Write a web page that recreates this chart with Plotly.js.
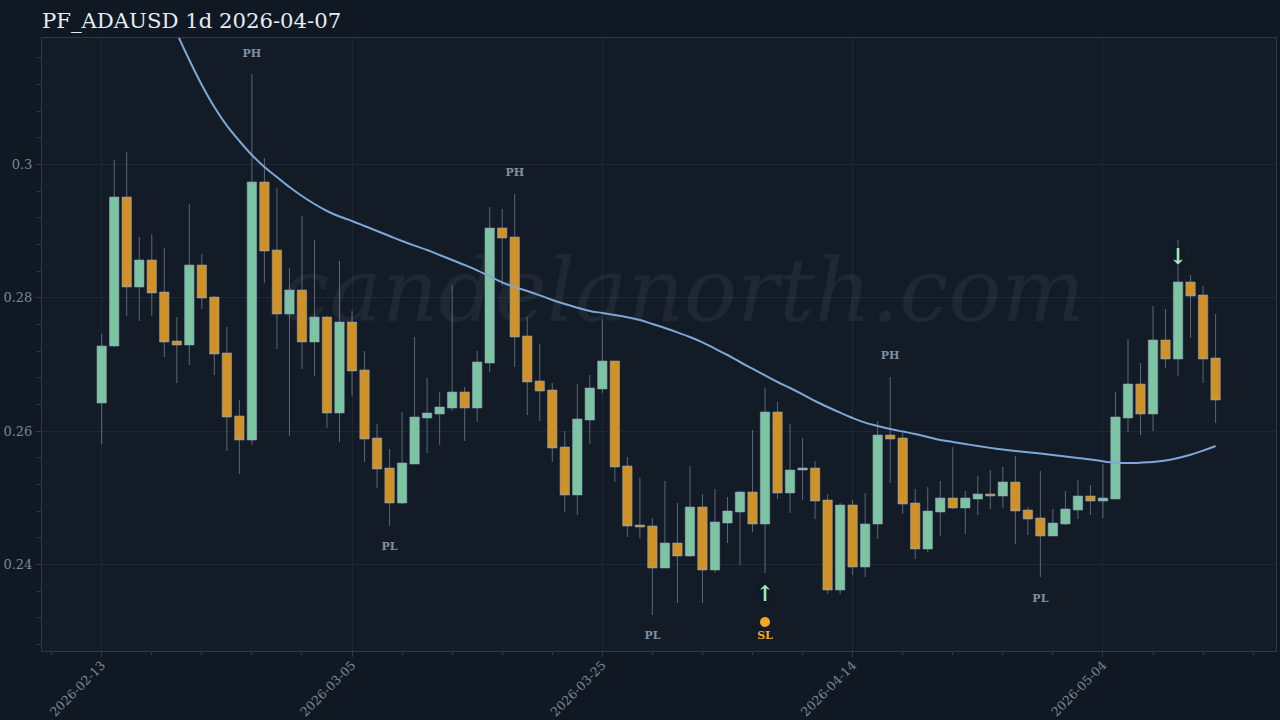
<!DOCTYPE html>
<html><head><meta charset="utf-8">
<script src="https://cdn.plot.ly/plotly-3.0.1.min.js"></script>
<style>html,body{margin:0;padding:0;background:#0f1823}#c{width:1280px;height:720px}</style>
</head><body><div id="c"></div>
<script>
const dates=["2026-02-13","2026-02-14","2026-02-15","2026-02-16","2026-02-17","2026-02-18","2026-02-19","2026-02-20","2026-02-21","2026-02-22","2026-02-23","2026-02-24","2026-02-25","2026-02-26","2026-02-27","2026-02-28","2026-03-01","2026-03-02","2026-03-03","2026-03-04","2026-03-05","2026-03-06","2026-03-07","2026-03-08","2026-03-09","2026-03-10","2026-03-11","2026-03-12","2026-03-13","2026-03-14","2026-03-15","2026-03-16","2026-03-17","2026-03-18","2026-03-19","2026-03-20","2026-03-21","2026-03-22","2026-03-23","2026-03-24","2026-03-25","2026-03-26","2026-03-27","2026-03-28","2026-03-29","2026-03-30","2026-03-31","2026-04-01","2026-04-02","2026-04-03","2026-04-04","2026-04-05","2026-04-06","2026-04-07","2026-04-08","2026-04-09","2026-04-10","2026-04-11","2026-04-12","2026-04-13","2026-04-14","2026-04-15","2026-04-16","2026-04-17","2026-04-18","2026-04-19","2026-04-20","2026-04-21","2026-04-22","2026-04-23","2026-04-24","2026-04-25","2026-04-26","2026-04-27","2026-04-28","2026-04-29","2026-04-30","2026-05-01","2026-05-02","2026-05-03","2026-05-04","2026-05-05","2026-05-06","2026-05-07","2026-05-08","2026-05-09","2026-05-10","2026-05-11","2026-05-12","2026-05-13"];
const opens=[.2642,.27275,.2951,.2816,.28565,.28085,.2735,.2729,.2849,.2801,.2717,.26225,.25865,.29735,.28715,.27755,.28115,.27335,.2771,.2627,.27635,.26915,.25895,.25445,.2492,.25505,.26195,.26255,.26345,.26585,.26345,.2702,.29045,.2891,.27425,.2675,.26615,.2576,.2504,.26165,.2663,.2705,.25475,.2459,.24575,.23945,.2432,.24125,.2486,.23915,.2462,.24785,.25085,.24605,.26285,.2507,.25415,.25445,.24965,.23615,.2489,.2396,.24605,.2594,.25895,.2492,.2423,.24785,.24995,.24845,.2498,.25055,.25025,.25235,.24815,.24695,.24425,.24605,.24815,.25025,.2495,.2498,.26195,.26705,.26255,.27365,.2708,.28235,.2804,.27095];
const highs=[.27455,.30065,.30185,.2891,.28955,.28745,.2771,.29405,.28655,.28025,.2756,.26465,.31355,.30095,.29645,.28445,.29225,.28865,.27725,.2855,.278,.272,.26105,.2573,.26285,.2741,.26795,.26585,.2819,.2666,.272,.2936,.2933,.29555,.2771,.27305,.2672,.26,.26705,.2684,.2768,.2705,.2561,.25295,.24695,.2525,.2492,.25475,.25055,.2513,.2501,.251,.26015,.26645,.26435,.26105,.25895,.2555,.25055,.2492,.24965,.2507,.2615,.2681,.2597,.2513,.2516,.2525,.2576,.251,.25325,.25415,.2546,.25625,.2486,.254,.2483,.251,.25265,.2519,.25505,.26585,.2738,.2702,.27875,.2783,.28865,.2834,.28175,.27755];
const lows=[.25805,.2726,.27725,.2765,.27725,.2711,.2672,.2699,.2783,.2684,.257,.25355,.2579,.2822,.2723,.25925,.2693,.26825,.26045,.25835,.26525,.25535,.25145,.24575,.24905,.25505,.2567,.2579,.263,.2585,.26135,.26885,.28175,.2696,.2624,.2615,.25535,.24785,.2474,.25805,.2657,.25235,.2441,.24395,.2324,.23945,.2342,.2411,.2342,.2387,.2432,.2399,.24485,.2387,.2498,.2477,.24965,.2468,.23555,.23555,.2384,.2381,.2438,.2522,.24755,.2408,.24185,.24425,.2483,.24455,.2474,.2483,.24845,.24305,.2444,.2381,.24425,.2459,.2468,.2474,.24695,.2498,.25985,.2594,.26,.26945,.26825,.27395,.2672,.2612];
const closes=[.27275,.2951,.2816,.28565,.2807,.27335,.2729,.2849,.27995,.27155,.2621,.25865,.29735,.287,.27755,.28115,.27335,.2771,.2627,.27635,.269,.2588,.2543,.2492,.2552,.2621,.2627,.2636,.26585,.26345,.27035,.29045,.28895,.2741,.26735,.266,.25745,.2504,.2618,.26645,.2705,.2546,.24575,.2456,.23945,.2432,.24125,.2486,.23915,.24635,.248,.25085,.24605,.26285,.2507,.25415,.25445,.2495,.23615,.2489,.2396,.24605,.2594,.2588,.24905,.2423,.248,.24995,.24845,.24995,.25055,.25025,.25235,.248,.2468,.24425,.2462,.2483,.25025,.2495,.24995,.2621,.26705,.26255,.27365,.2708,.28235,.28025,.2708,.26465];
const emaLine=[null,null,null,null,null,.3242,.3197,.31565,.3119,.3086,.3058,.3035,.3014,.2996,.2981,.2966,.29525,.29405,.293,.29217,.2915,.29075,.29,.28925,.2885,.2878,.28715,.2864,.28565,.2849,.2841,.2832,.2823,.2816,.281,.28035,.27965,.27905,.2785,.278,.2777,.2774,.27705,.27665,.27605,.27545,.2748,.2741,.2733,.27235,.2714,.27035,.26935,.26835,.26735,.26645,.2655,.2645,.2636,.26275,.26195,.26125,.26075,.2603,.25992,.25955,.2591,.25865,.25835,.25805,.25775,.25747,.25722,.257,.25682,.25662,.2564,.25617,.25595,.25572,.25545,.25525,.2552,.25525,.25535,.25557,.25595,.25645,.25705,.25775];
const pivotDates=["2026-02-25","2026-03-18","2026-04-17","2026-03-08","2026-03-29","2026-04-29"];
const pivotPrices=[.31655,.2987,.27125,.2426,.22925,.2348];
const pivotLabels=["PH","PH","PH","PL","PL","PL"];
const arrowDates=["2026-04-07","2026-05-10"];
const arrowPrices=[.2354,.28595];
const arrowGlyphs=["↑","↓"];
const stopDates=["2026-04-07"];
const stopDotPrices=[.23135];
const stopTextPrices=[.22925];
const stopLabels=["SL"];
const yTicks=[.24,.26,.28,.3];
const yTickText=["0.24","0.26","0.28","0.3"];
const titleText="PF_ADAUSD 1d 2026-04-07";
const watermark="candelanorth.com";

const SERIF="'DejaVu Serif', serif";
const DAY=86400000;
const wick="rgba(145,165,190,0.55)";
const traces=[
 {type:"candlestick",x:dates,open:opens,high:highs,low:lows,close:closes,whiskerwidth:0,hoverinfo:"skip",
  increasing:{line:{color:wick,width:1},fillcolor:"#7DC4A2"},
  decreasing:{line:{color:wick,width:1},fillcolor:"#D09226"}},
 {type:"scatter",mode:"lines",x:dates,y:emaLine,line:{color:"#7EA6D8",width:2,shape:"spline",smoothing:1},hoverinfo:"skip"},
 {type:"scatter",mode:"text",x:pivotDates,y:pivotPrices,text:pivotLabels,textposition:"middle center",
  textfont:{family:SERIF,size:11,color:"#7F8FA3",weight:700},hoverinfo:"skip"},
 {type:"scatter",mode:"text",x:arrowDates,y:arrowPrices,text:arrowGlyphs,textposition:"middle center",
  textfont:{family:SERIF,size:22,color:"#A0EBC4",weight:700,shadow:"0 0 4px #131C26, 0 0 4px #131C26"},hoverinfo:"skip"},
 {type:"scatter",mode:"markers",x:stopDates,y:stopDotPrices,marker:{color:"#F5A623",size:10},hoverinfo:"skip"},
 {type:"scatter",mode:"text",x:stopDates,y:stopTextPrices,text:stopLabels,textposition:"middle center",
  textfont:{family:SERIF,size:11,color:"#F5A623",weight:700},hoverinfo:"skip"}
];
const layout={
 width:1280,height:720,showlegend:false,hovermode:false,boxgap:0.25,boxgroupgap:0,
 paper_bgcolor:"#0F1823",plot_bgcolor:"#131C26",
 margin:{l:41.5,r:4,t:38,b:69,pad:0},
 title:{text:titleText,xanchor:"left",xref:"container",x:0.0328,y:0.971,yanchor:"middle",yref:"container",
  font:{family:SERIF,size:21.2,color:"#E6EDF3"}},
 font:{family:SERIF,color:"#7A8897",size:13},
 xaxis:{type:"date",range:["2026-02-08T05:30","2026-05-17T19:50"],rangeslider:{visible:false},
  tick0:"2026-02-13",dtick:20*DAY,tickformat:"%Y-%m-%d",tickangle:-45,ticks:"outside",ticklen:5,tickcolor:"#2A3A4A",ticklabelstandoff:-4,
  tickfont:{family:SERIF,size:12.5,color:"#7A8897"},gridcolor:"#1C2833",gridwidth:1,zeroline:false,
  showline:true,mirror:true,linecolor:"#2A3A4A",linewidth:1,
  minor:{dtick:4*DAY,tick0:"2026-02-13",ticks:"outside",ticklen:3,tickcolor:"#2A3A4A",showgrid:false}},
 yaxis:{type:"linear",range:[.227,.31895],tickmode:"array",tickvals:yTicks,ticktext:yTickText,ticks:"outside",ticklen:6,tickcolor:"#2A3A4A",
  tickfont:{family:SERIF,size:13,color:"#7A8897"},gridcolor:"#1C2833",gridwidth:1,zeroline:false,
  showline:true,mirror:true,linecolor:"#2A3A4A",linewidth:1,
  minor:{dtick:.004,tick0:.24,ticks:"outside",ticklen:4,tickcolor:"#2A3A4A",showgrid:false}},
 annotations:[{text:watermark,xref:"paper",yref:"paper",x:0.5194,y:0.5886,xanchor:"center",yanchor:"middle",showarrow:false,
  font:{family:SERIF,size:88,color:"rgba(140,160,175,0.09)",style:"italic"}}]
};
Plotly.newPlot("c",traces,layout,{displayModeBar:false,staticPlot:true});
</script></body></html>
